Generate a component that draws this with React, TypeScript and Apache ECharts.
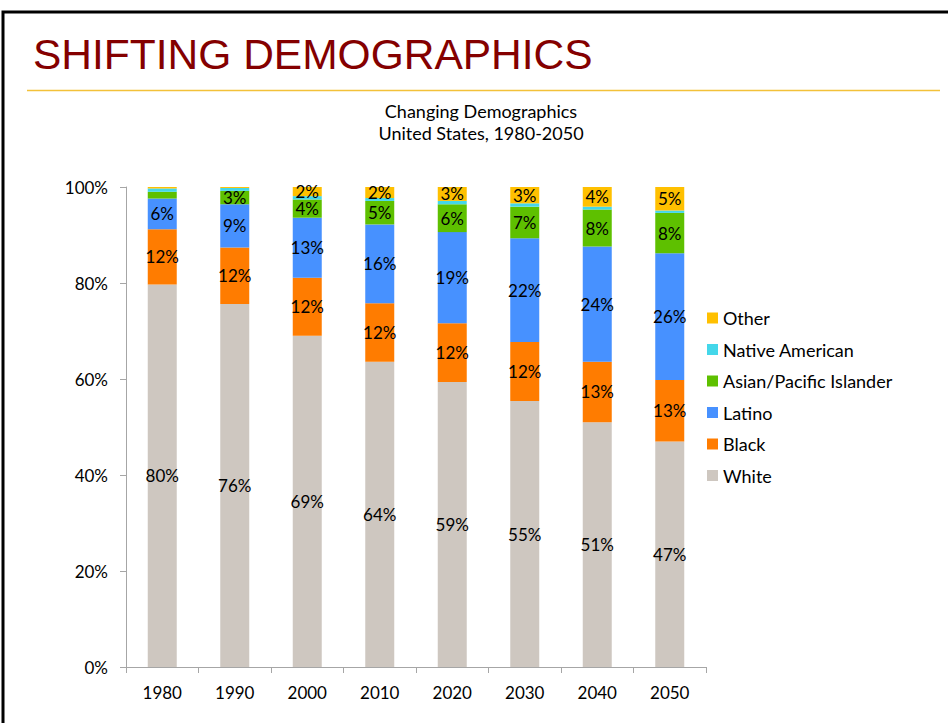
import React, { useEffect, useRef } from "react";
import * as echarts from "echarts";

const years = ["1980", "1990", "2000", "2010", "2020", "2030", "2040", "2050"];
const white = [79.7, 75.6, 69.0, 63.6, 59.4, 55.4, 51.0, 47.0];
const black = [11.5, 11.8, 12.1, 12.2, 12.2, 12.3, 12.6, 12.8];
const latino = [6.4, 9.0, 12.5, 16.4, 19.0, 21.6, 24.0, 26.4];
const asian = [1.4, 2.8, 3.8, 4.9, 5.8, 6.6, 7.7, 8.4];
const nativeAm = [0.7, 0.6, 0.7, 0.6, 0.7, 0.7, 0.6, 0.5];
const other = [0.3, 0.2, 1.9, 2.3, 2.9, 3.4, 4.1, 4.9];
const yTicks = [0, 20, 40, 60, 80, 100];

const seriesDefs = [
  { name: "White", data: white, color: "#CEC7C0" },
  { name: "Black", data: black, color: "#FF7C00" },
  { name: "Latino", data: latino, color: "#4791FF" },
  { name: "Asian/Pacific Islander", data: asian, color: "#5EC000" },
  { name: "Native American", data: nativeAm, color: "#44D7EA" },
  { name: "Other", data: other, color: "#FFC000" },
];

const FONT = "Lato, 'Open Sans', sans-serif";

export default function App() {
  const ref = useRef<HTMLDivElement>(null);
  useEffect(() => {
    if (!ref.current) return;
    const chart = echarts.init(ref.current, null, { renderer: "svg" });
    chart.setOption({
      animation: false,
      backgroundColor: "#ffffff",
      graphic: [
        {
          type: "rect",
          shape: { x: 3, y: 12, width: 1000, height: 800 },
          style: { fill: "none", stroke: "#000", lineWidth: 3 },
          silent: true,
        },
        {
          type: "line",
          shape: { x1: 27, y1: 90.5, x2: 940, y2: 90.5 },
          style: { stroke: "#F3C13A", lineWidth: 1.5 },
          silent: true,
        },
        {
          type: "text",
          x: 33,
          y: 54,
          style: {
            text: "SHIFTING DEMOGRAPHICS",
            font: "42.5px 'Liberation Sans', Arial, sans-serif",
            fill: "#840000",
            align: "left",
            verticalAlign: "middle",
          },
        },
        {
          type: "text",
          x: 481,
          y: 111,
          style: {
            text: "Changing Demographics",
            font: "18px " + FONT,
            fill: "#000",
            align: "center",
            verticalAlign: "middle",
          },
        },
        {
          type: "text",
          x: 481,
          y: 133,
          style: {
            text: "United States, 1980-2050",
            font: "18px " + FONT,
            fill: "#000",
            align: "center",
            verticalAlign: "middle",
          },
        },
      ],
      legend: {
        orient: "vertical",
        left: 702,
        top: 304,
        padding: 5,
        data: ["Other", "Native American", "Asian/Pacific Islander", "Latino", "Black", "White"],
        icon: "rect",
        itemWidth: 11,
        itemHeight: 11,
        itemGap: 13.5,
        textStyle: { fontFamily: FONT, fontSize: 18, color: "#000" },
        selectedMode: false,
      },
      grid: { left: 126, right: 242, top: 187, bottom: 56, containLabel: false },
      xAxis: {
        type: "category",
        data: years,
        boundaryGap: true,
        axisLine: { show: true, lineStyle: { color: "#A6A6A6", width: 1 } },
        axisTick: { show: true, alignWithLabel: false, length: 6, lineStyle: { color: "#A6A6A6" } },
        axisLabel: { fontFamily: FONT, fontSize: 17, color: "#000", margin: 17 },
      },
      yAxis: {
        type: "value",
        min: yTicks[0],
        max: yTicks[yTicks.length - 1],
        interval: 20,
        axisLine: { show: true, lineStyle: { color: "#A6A6A6", width: 1 } },
        axisTick: { show: true, length: 6, lineStyle: { color: "#A6A6A6" } },
        splitLine: { show: false },
        axisLabel: {
          fontFamily: FONT,
          fontSize: 17,
          color: "#000",
          margin: 18,
          formatter: (v: number) => v + "%",
        },
      },
      series: seriesDefs.map((s) => ({
        name: s.name,
        type: "bar",
        stack: "total",
        barWidth: 29,
        data: s.data,
        itemStyle: { color: s.color },
        label: {
          show: true,
          position: "inside",
          fontFamily: FONT,
          fontSize: 17,
          lineHeight: 14,
          color: "#000",
          formatter: (p: any) => {
            const v = Math.round(p.value);
            return v >= 2 ? v + "%" : "";
          },
        },
      })),
    });
    return () => chart.dispose();
  }, []);
  return (
    <div
      ref={ref}
      style={{ position: "fixed", left: 0, top: 0, width: 948, height: 723 }}
    />
  );
}
